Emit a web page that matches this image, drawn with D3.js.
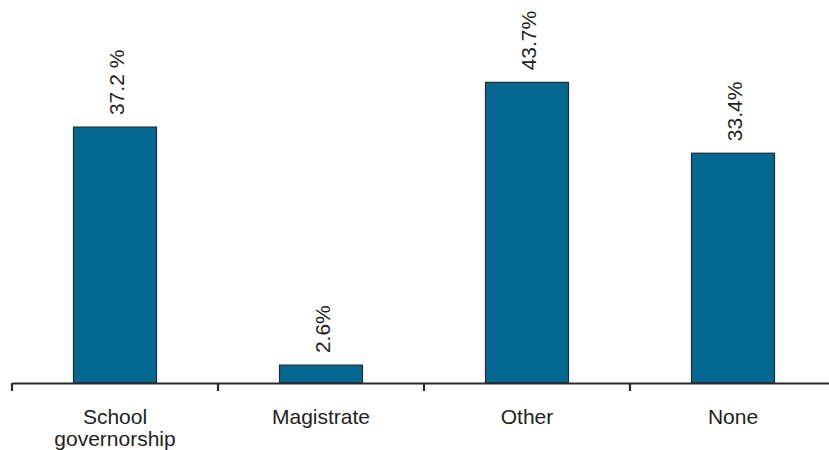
<!DOCTYPE html>
<html>
<head>
<meta charset="utf-8">
<script src="https://cdn.jsdelivr.net/npm/d3@7/dist/d3.min.js"></script>
<style>
  html, body { margin: 0; padding: 0; background: #fff; }
  svg { display: block; }
  text { font-family: "Liberation Sans", Arial, Helvetica, sans-serif; fill: #231f20; }
</style>
</head>
<body>
<svg id="chart" width="829" height="450"></svg>
<script>
const categories = [["School", "governorship"], ["Magistrate"], ["Other"], ["None"]];
const values = [37.2, 2.6, 43.7, 33.4];
const valueLabels = ["37.2 %", "2.6%", "43.7%", "33.4%"];

const svg = d3.select("#chart");
const baseY = 383;
const keys = categories.map(c => c.join(" "));

const x = d3.scaleBand().domain(keys).range([12, 836]).paddingInner(0).paddingOuter(0);
const y = d3.scaleLinear().domain([0, 50]).range([baseY, baseY - 344]);
const barW = 83;

// bars
svg.selectAll("rect.bar").data(values).enter().append("rect")
  .attr("class", "bar")
  .attr("x", (d, i) => x(keys[i]) + x.bandwidth() / 2 - barW / 2)
  .attr("y", d => y(d))
  .attr("width", barW)
  .attr("height", d => y(0) - y(d))
  .attr("fill", "#046893")
  .attr("stroke", "#2a2a2a")
  .attr("stroke-width", 1.2);

// value labels
svg.selectAll("text.val").data(values).enter().append("text")
  .attr("class", "val")
  .attr("transform", (d, i) => `translate(${x(keys[i]) + x.bandwidth() / 2 + 9},${y(d) - 12}) rotate(-90)`)
  .attr("text-anchor", "start")
  .attr("font-size", 21)
  .text((d, i) => valueLabels[i]);

// axis
const axis = d3.axisBottom(x).tickSize(0).tickFormat("");
const g = svg.append("g").attr("transform", `translate(0,${baseY})`).call(axis);
g.select(".domain").attr("stroke", "#2a2a2a").attr("stroke-width", 2.2);
g.selectAll(".tick").remove();

// boundary ticks between bands
const bounds = keys.map(k => x(k));
g.selectAll("line.bt").data(bounds).enter().append("line")
  .attr("x1", d => d).attr("x2", d => d)
  .attr("y1", 0).attr("y2", 8)
  .attr("stroke", "#2a2a2a").attr("stroke-width", 2.2);

// category labels
const lab = svg.selectAll("text.cat").data(categories).enter().append("text")
  .attr("class", "cat")
  .attr("text-anchor", "middle")
  .attr("font-size", 21)
  .attr("x", (d, i) => x(keys[i]) + x.bandwidth() / 2)
  .attr("y", 424);
lab.selectAll("tspan").data((d, i) => d.map(s => ({ s, i }))).enter().append("tspan")
  .attr("x", d => x(keys[d.i]) + x.bandwidth() / 2)
  .attr("dy", (d, j) => j === 0 ? 0 : 22)
  .text(d => d.s);
</script>
</body>
</html>
